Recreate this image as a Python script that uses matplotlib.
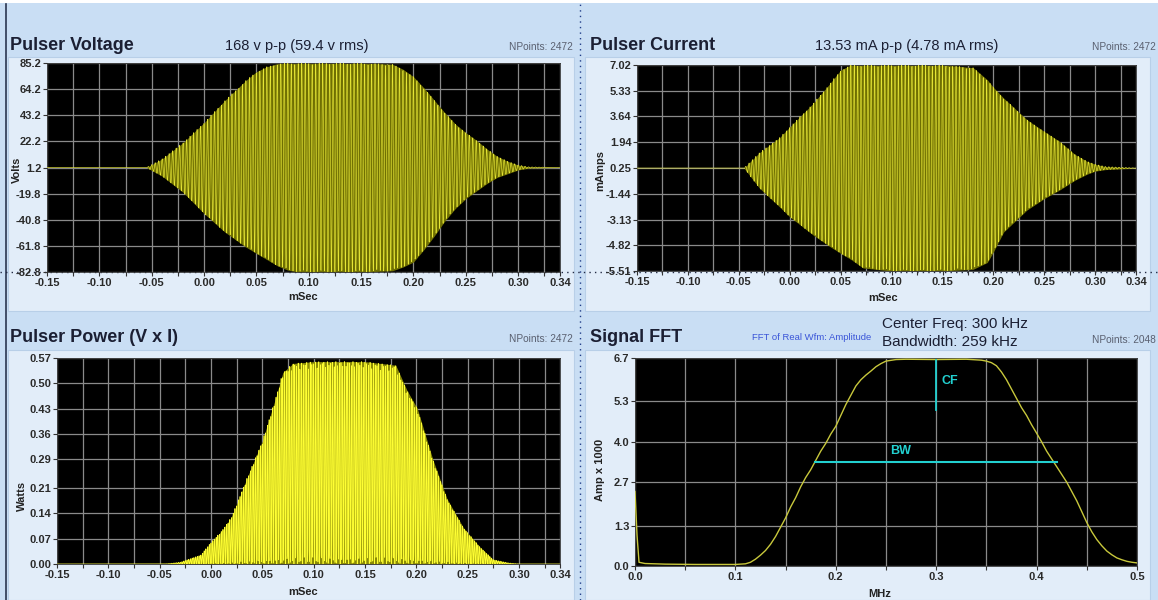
import numpy as np
import matplotlib
matplotlib.use("Agg")
import matplotlib.pyplot as plt
from matplotlib.lines import Line2D
from matplotlib.patches import Rectangle

plt.rcParams['font.family'] = ['Liberation Sans', 'DejaVu Sans']

# ---------------- data ----------------
N_POINTS = 2472
CARRIER_KHZ = 300.0          # centre frequency quoted on the chart
T_START, T_END = -0.15, 0.34  # mSec

# voltage envelope (volts above / below the 1.2 V baseline)
V_BASE = 1.2
V_ENV_T = [-0.15, -0.055, -0.04, -0.02, 0.00, 0.02, 0.04, 0.05, 0.06, 0.07, 0.08, 0.09,
           0.10, 0.15, 0.18, 0.19, 0.20, 0.21, 0.22, 0.23, 0.24, 0.25, 0.26, 0.27, 0.28,
           0.29, 0.30, 0.31, 0.34]
V_ENV_UP = [0, 0, 7, 20, 36, 54, 70, 77, 81, 83.5, 84, 84,
            84, 84, 83, 79, 73, 64, 54, 44, 35, 28, 22, 15, 9,
            5, 2, 0.5, 0]
V_ENV_LO = [0, 0, 7, 20, 37, 52, 64, 69, 74, 79, 82.5, 84,
            84, 84, 83, 80, 76, 66, 55, 43, 33, 25, 19, 13, 8,
            5, 2, 0.5, 0]

# current envelope (mA above / below the 0.25 mA baseline)
I_BASE = 0.25
I_ENV_T = [-0.15, -0.045, -0.03, -0.01, 0.0, 0.023, 0.04, 0.05, 0.06, 0.072, 0.10,
           0.15, 0.18, 0.194, 0.20, 0.21, 0.233, 0.25, 0.265, 0.28, 0.292, 0.30,
           0.31, 0.34]
I_ENV_UP = [0, 0, 1.0, 2.0, 2.7, 4.25, 5.6, 6.44, 6.77, 6.77, 6.77,
            6.77, 6.6, 5.8, 5.3, 4.6, 3.17, 2.4, 1.75, 0.9, 0.44, 0.25,
            0.1, 0]
I_ENV_LO = [0, 0, 1.3, 2.55, 3.2, 4.4, 5.18, 5.6, 6.0, 6.56, 6.76,
            6.76, 6.65, 6.2, 5.5, 4.2, 2.75, 2.0, 1.44, 0.8, 0.4, 0.2,
            0.1, 0]

# instantaneous power envelope (Watts)
P_ENV_T = [-0.15, -0.045, -0.03, -0.01, 0.0, 0.01, 0.02, 0.034, 0.05, 0.063, 0.07, 0.08,
           0.10, 0.15, 0.18, 0.191, 0.201, 0.216, 0.23, 0.246, 0.262, 0.275, 0.29,
           0.30, 0.34]
P_ENV = [0, 0, 0.005, 0.025, 0.06, 0.09, 0.13, 0.23, 0.34, 0.46, 0.53, 0.555,
         0.56, 0.56, 0.55, 0.48, 0.43, 0.29, 0.18, 0.10, 0.047, 0.012, 0.003,
         0, 0]

# FFT magnitude (Amp x 1000) versus MHz
FFT_F = [0.0, 0.002, 0.004, 0.01, 0.03, 0.06, 0.09, 0.10, 0.11, 0.115, 0.12, 0.125,
         0.13, 0.135, 0.14, 0.145, 0.15, 0.155, 0.16, 0.165, 0.17, 0.175, 0.18, 0.185,
         0.19, 0.195, 0.20, 0.205, 0.21, 0.215, 0.22, 0.225, 0.23, 0.235, 0.24, 0.245,
         0.25, 0.26, 0.27, 0.30, 0.33, 0.345, 0.35, 0.355, 0.36, 0.365, 0.37, 0.375,
         0.38, 0.385, 0.39, 0.395, 0.40, 0.405, 0.41, 0.415, 0.42, 0.425, 0.43, 0.435,
         0.44, 0.445, 0.45, 0.455, 0.46, 0.465, 0.47, 0.475, 0.48, 0.485, 0.49, 0.495,
         0.50]
FFT_A = [2.4, 1.0, 0.12, 0.08, 0.06, 0.05, 0.05, 0.05, 0.07, 0.12, 0.22, 0.35,
         0.5, 0.7, 0.95, 1.25, 1.55, 1.9, 2.2, 2.55, 2.85, 3.1, 3.4, 3.7,
         3.95, 4.25, 4.5, 4.85, 5.2, 5.5, 5.8, 6.0, 6.15, 6.28, 6.42, 6.52,
         6.6, 6.65, 6.66, 6.65, 6.66, 6.63, 6.6, 6.55, 6.45, 6.25, 6.0, 5.7,
         5.4, 5.1, 4.85, 4.55, 4.28, 4.0, 3.7, 3.45, 3.2, 2.95, 2.7, 2.4,
         2.1, 1.75, 1.4, 1.1, 0.85, 0.65, 0.48, 0.36, 0.26, 0.2, 0.15, 0.12,
         0.1]
CF_MHZ = 0.30
CF_Y = [5.02, 6.65]
BW_F = [0.179, 0.42]
BW_Y = 3.35

# ticks / labels
X_TICKS = [-0.15, -0.10, -0.05, 0.00, 0.05, 0.10, 0.15, 0.20, 0.25, 0.30, 0.34]
X_TICK_LABELS = ['-0.15', '-0.10', '-0.05', '0.00', '0.05', '0.10', '0.15', '0.20',
                 '0.25', '0.30', '0.34']
X_MINOR = [-0.125, -0.075, -0.025, 0.025, 0.075, 0.125, 0.175, 0.225, 0.275, 0.325]
V_YTICKS = [85.2, 64.2, 43.2, 22.2, 1.2, -19.8, -40.8, -61.8, -82.8]
I_YTICKS = [7.02, 5.33, 3.64, 1.94, 0.25, -1.44, -3.13, -4.82, -6.51]
I_YTICK_LABELS = ['7.02', '5.33', '3.64', '1.94', '0.25', '-1.44', '-3.13', '-4.82', '-5.51']
P_YTICKS = [0.57, 0.50, 0.43, 0.36, 0.29, 0.21, 0.14, 0.07, 0.00]
P_YTICK_LABELS = ['0.57', '0.50', '0.43', '0.36', '0.29', '0.21', '0.14', '0.07', '0.00']
F_XTICKS = [0.0, 0.1, 0.2, 0.3, 0.4, 0.5]
F_XTICK_LABELS = ['0.0', '0.1', '0.2', '0.3', '0.4', '0.5']
F_XMINOR = [0.05, 0.15, 0.25, 0.35, 0.45]
F_YTICKS = [0.0, 1.3, 2.7, 4.0, 5.3, 6.7]
F_YTICK_LABELS = ['0.0', '1.3', '2.7', '4.0', '5.3', '6.7']

# ---------------- signals ----------------
t = np.linspace(T_START, T_END, N_POINTS)
phase = np.cos(2 * np.pi * CARRIER_KHZ * t)
v_up = np.interp(t, V_ENV_T, V_ENV_UP)
v_lo = np.interp(t, V_ENV_T, V_ENV_LO)
i_up = np.interp(t, I_ENV_T, I_ENV_UP)
i_lo = np.interp(t, I_ENV_T, I_ENV_LO)
p_env = np.interp(t, P_ENV_T, P_ENV)
volts = V_BASE + np.where(phase > 0, v_up * phase, v_lo * phase)
amps = I_BASE + np.where(phase > 0, i_up * phase, i_lo * phase)
power = p_env * phase ** 2

# ---------------- figure ----------------
W, H = 1158, 600
fig = plt.figure(figsize=(W / 100, H / 100), dpi=100)
fig.patch.set_facecolor('#c9def4')

def rect(x0, y0, x1, y1):
    return [x0 / W, 1 - y1 / H, (x1 - x0) / W, (y1 - y0) / H]

# panel backgrounds
for (x0, y0, x1, y1) in [(8, 57, 574, 311), (585, 57, 1150, 311),
                         (8, 350, 574, 600), (585, 350, 1150, 600)]:
    fig.patches.append(Rectangle((x0 / W, 1 - y1 / H), (x1 - x0) / W, (y1 - y0) / H,
                                 transform=fig.transFigure, facecolor='#e2edf9',
                                 edgecolor='#b8cfe8', lw=0.8, zorder=-3))
# top white strip and left dark edge
fig.patches.append(Rectangle((0, 1 - 3 / H), 1, 3 / H, transform=fig.transFigure,
                             facecolor='white', edgecolor='none', zorder=-3))
fig.lines.append(Line2D([5.5 / W, 5.5 / W], [0, 1 - 4 / H], transform=fig.transFigure,
                        color='#2a3550', lw=1.2, zorder=-2))
# dotted cursor lines
fig.lines.append(Line2D([580 / W, 580 / W], [0, 1], transform=fig.transFigure,
                        color='#1f3c88', lw=1.0, ls=(0, (1, 3)), zorder=-2))
fig.lines.append(Line2D([0, 1], [1 - 272 / H, 1 - 272 / H], transform=fig.transFigure,
                        color='#222a44', lw=1.0, ls=(0, (1, 3)), zorder=-2))

TICK_FONT = dict(fontsize=8, fontweight='bold', color='#2a2a2a')

def style(ax, xlim, ylim, xt, xtl, xm, yt, ytl):
    ax.set_facecolor('black')
    ax.set_xlim(*xlim)
    ax.set_ylim(*ylim)
    ax.set_xticks(xt)
    ax.set_xticklabels(xtl, **TICK_FONT)
    ax.set_xticks(xm, minor=True)
    ax.set_yticks(yt)
    ax.set_yticklabels(ytl, **TICK_FONT)
    ax.grid(which='both', color='#8a8a8a', lw=0.9, zorder=1)
    ax.set_axisbelow(True)
    ax.tick_params(which='both', direction='out', length=3, width=0.8, color='#333333', pad=1)
    for s in ax.spines.values():
        s.set_color('#333333')
        s.set_linewidth(0.6)

WAVE_DARK = '#6f6f02'
WAVE_LINE = '#e6e636'

# --- Pulser Voltage ---
axv = fig.add_axes(rect(47, 63, 560, 272))
style(axv, (T_START, T_END), (-82.8, 85.2), X_TICKS, X_TICK_LABELS, X_MINOR,
      V_YTICKS, [f'{v:.1f}' for v in V_YTICKS])
axv.fill_between(t, V_BASE - v_lo, V_BASE + v_up, color=WAVE_DARK, lw=0, zorder=2)
axv.plot(t, volts, color=WAVE_LINE, lw=0.45, zorder=3)

# --- Pulser Current ---
axi = fig.add_axes(rect(637, 65, 1136, 271))
style(axi, (T_START, T_END), (-6.51, 7.02), X_TICKS, X_TICK_LABELS, X_MINOR,
      I_YTICKS, I_YTICK_LABELS)
axi.fill_between(t, I_BASE - i_lo, I_BASE + i_up, color=WAVE_DARK, lw=0, zorder=2)
axi.plot(t, amps, color=WAVE_LINE, lw=0.45, zorder=3)

# --- Pulser Power ---
axp = fig.add_axes(rect(57, 358, 560, 564))
style(axp, (T_START, T_END), (0.0, 0.57), X_TICKS, X_TICK_LABELS, X_MINOR,
      P_YTICKS, P_YTICK_LABELS)
axp.fill_between(t, 0, p_env, color='#8a8a06', lw=0, zorder=2)
axp.plot(t, power, color='#ffff33', lw=0.5, zorder=3)

# --- Signal FFT ---
axf = fig.add_axes(rect(635, 358, 1137, 566))
style(axf, (0.0, 0.5), (0.0, 6.7), F_XTICKS, F_XTICK_LABELS, F_XMINOR,
      F_YTICKS, F_YTICK_LABELS)
axf.plot(FFT_F, FFT_A, color='#c8c83c', lw=1.0, zorder=3)
axf.plot([CF_MHZ, CF_MHZ], CF_Y, color='#22d0d0', lw=1.3, zorder=4)
axf.plot(BW_F, [BW_Y, BW_Y], color='#22d0d0', lw=1.5, zorder=4)
axf.text(0.305, 5.95, 'CF', color='#22d0d0', fontsize=9, fontweight='bold',
         va='center', zorder=5)
axf.text(0.254, 3.7, 'BW', color='#22d0d0', fontsize=9, fontweight='bold',
         va='center', zorder=5)

# ---------------- texts ----------------
TITLE = dict(fontsize=13, fontweight='bold', color='#1b1f33', va='center', ha='left')
SUB = dict(fontsize=10.5, color='#1b1f33', va='center', ha='left')
NPT = dict(fontsize=7.3, color='#5a6070', va='center', ha='right')
AXL = dict(fontsize=8, fontweight='bold', color='#222222', va='center', ha='center')

def ft(x, y, s, **kw):
    fig.text(x / W, 1 - y / H, s, **kw)

ft(10, 46, 'Pulser Voltage', **TITLE)
ft(225, 46, '168 v p-p (59.4 v rms)', **SUB)
ft(573, 47, 'NPoints: 2472', **NPT)
ft(590, 46, 'Pulser Current', **TITLE)
ft(815, 46, '13.53 mA p-p (4.78 mA rms)', **SUB)
ft(1156, 47, 'NPoints: 2472', **NPT)
ft(10, 337, 'Pulser Power (V x I)', **TITLE)
ft(573, 339, 'NPoints: 2472', **NPT)
ft(590, 337, 'Signal FFT', **TITLE)
ft(752, 338, 'FFT of Real Wfm: Amplitude', fontsize=6.8, color='#3a55d8', va='center', ha='left')
ft(882, 324, 'Center Freq: 300 kHz', fontsize=11, color='#1b1f33', va='center', ha='left')
ft(882, 342, 'Bandwidth: 259 kHz', fontsize=11, color='#1b1f33', va='center', ha='left')
ft(1156, 340, 'NPoints: 2048', **NPT)

ft(303, 297, 'mSec', **AXL)
ft(883, 298, 'mSec', **AXL)
ft(303, 592, 'mSec', **AXL)
ft(880, 594, 'MHz', **AXL)
ft(17, 170, 'Volts', rotation=90, **AXL)
ft(600, 171, 'mAmps', rotation=90, **AXL)
ft(22, 496, 'Watts', rotation=90, **AXL)
ft(600, 470, 'Amp x 1000', rotation=90, **AXL)

fig.savefig('out.png', dpi=100, facecolor=fig.get_facecolor())
